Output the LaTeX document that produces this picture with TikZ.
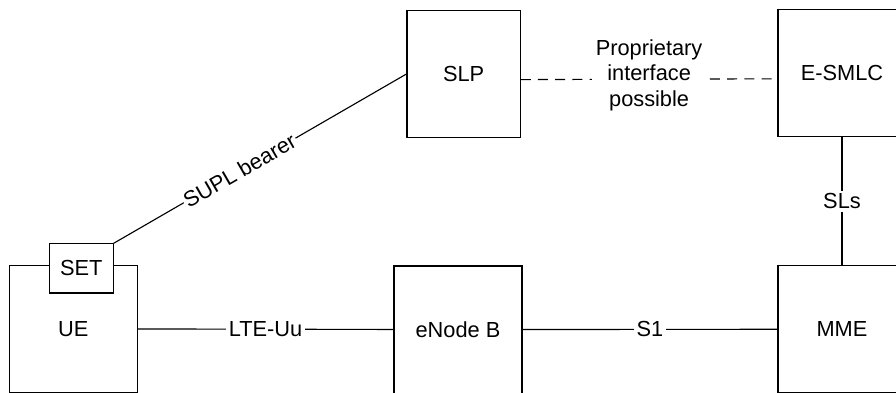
\documentclass[tikz,border=0pt]{standalone}
\usepackage{fontspec}
\setmainfont{Liberation Sans}
\usetikzlibrary{positioning}

\begin{document}
\begin{tikzpicture}[
    box/.style={draw, line width=0.8pt, fill=white, minimum width=3.2cm, minimum height=3.18cm, inner sep=0pt},
    link/.style={line width=0.8pt},
    tag/.style={fill=white, inner sep=2pt},
    font=\fontsize{15.5}{18.2}\selectfont
]
    % Page frame
    \useasboundingbox (0, 0) rectangle (22.4, 9.8);
    \clip (0, 0) rectangle (22.4, 9.8);
    
    % Network elements
    \node[box] (UE) at (1.83, 1.58) {UE};
    \node[box, minimum width=1.6cm, minimum height=1.23cm] (SET) at (2.03, 3.09) {SET};
    \node[box, minimum width=2.83cm] (SLP) at (11.59, 7.95) {SLP};
    \node[box] (ESMLC) at (21.05, 7.97) {E-SMLC};
    \node[box] (ENB) at (11.45, 1.56) {eNode B};
    \node[box] (MME) at (21.05, 1.57) {MME};
    
    % Interfaces
    \draw[link] (UE) -- (ENB) node[tag, midway] {LTE-Uu};
    \draw[link] (ENB) -- (MME) node[tag, midway] {S1};
    \draw[link] (ESMLC) -- (MME) node[tag, midway] {SLs};
    \draw[link] (SET.north east) -- (SLP.west) node[tag, pos=0.43, sloped, inner sep=1pt] {SUPL bearer};
    \draw[link, dash pattern=on 0.25cm off 0.18cm]
        ([yshift=-0.14cm]SLP.east) -- ([yshift=-0.14cm]ESMLC.west)
        node[tag, midway, align=center, yshift=0.1cm, inner sep=3pt] {Proprietary\\interface\\possible};
    
\end{tikzpicture}
\end{document}
